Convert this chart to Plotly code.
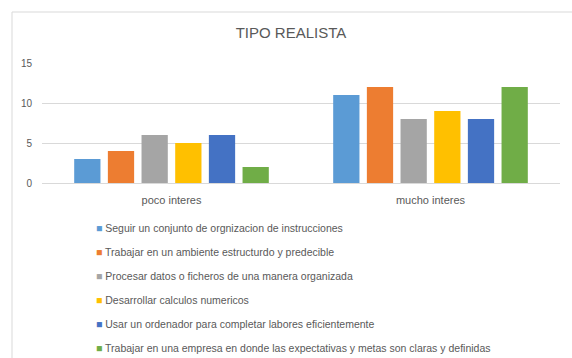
import plotly.graph_objects as go

# Chart data
categories = ["poco interes", "mucho interes"]
series_names = [
    "Seguir un conjunto de orgnizacion de instrucciones",
    "Trabajar en un ambiente estructurdo y predecible",
    "Procesar datos o ficheros de una manera organizada",
    "Desarrollar calculos numericos",
    "Usar un ordenador para completar labores eficientemente",
    "Trabajar en una empresa en donde las expectativas y metas son claras y definidas",
]
series_values = [
    [3, 11],
    [4, 12],
    [6, 8],
    [5, 9],
    [6, 8],
    [2, 12],
]
colors = ["#5B9BD5", "#ED7D31", "#A5A5A5", "#FFC000", "#4472C4", "#70AD47"]
y_ticks = [0, 5, 10, 15]

FONT = "Liberation Sans, Arial, sans-serif"
TEXT = "#595959"
GRID = "#D9D9D9"
W, H = 572, 358

# plot area: x 42..560, y 63..183 (pixels)
L, R, T, B = 42, 12, 63, 175
PW, PH = W - L - R, H - T - B

fig = go.Figure()
for name, vals, col in zip(series_names, series_values, colors):
    fig.add_trace(go.Bar(
        x=categories, y=vals, name=name,
        marker=dict(color=col, line=dict(width=0)),
        showlegend=False,
    ))
    # legend row: colored square glyph followed by the series name
    fig.add_trace(go.Scatter(
        x=[None], y=[None], mode="markers",
        name=f'<span style="color:{col}">■</span> {name}',
        marker=dict(symbol="square", size=1, color="rgba(0,0,0,0)",
                    line=dict(width=0)),
        legendgroup=name, hoverinfo="skip",
    ))

fig.update_layout(
    width=W, height=H,
    margin=dict(l=L, r=R, t=T, b=B, autoexpand=False),
    paper_bgcolor="white", plot_bgcolor="white",
    font=dict(family=FONT, size=11, color=TEXT),
    title=dict(text="TIPO REALISTA", x=(291 - L) / PW, xanchor="center", xref="paper",
               y=1 - 33 / H, yanchor="middle",
               font=dict(family=FONT, size=15, color=TEXT)),
    barmode="group", bargap=0.22, bargroupgap=0.22,
    showlegend=True,
    legend=dict(x=(56 - L) / PW, xanchor="left", y=-(213 - 183) / PH, yanchor="top",
                orientation="v", tracegroupgap=5, itemwidth=30,
                borderwidth=0,
                font=dict(family=FONT, size=10.5, color=TEXT),
                bgcolor="rgba(0,0,0,0)"),
    xaxis=dict(showgrid=False, showline=False, ticks="", zeroline=False,
               tickfont=dict(family=FONT, size=11, color=TEXT), ticklabelstandoff=9),
    yaxis=dict(range=[0, 15], tickvals=y_ticks, showgrid=True, gridcolor=GRID,
               gridwidth=1, zeroline=True, zerolinecolor=GRID, zerolinewidth=1,
               showline=False, ticks="", ticklabelstandoff=9,
               tickfont=dict(family=FONT, size=10, color=TEXT)),
    shapes=[dict(type="rect", xref="paper", yref="paper",
                 x0=-(L - 12) / PW, x1=1.2, y0=-2, y1=(183 - 12) / PH,
                 line=dict(color=GRID, width=1), fillcolor="rgba(0,0,0,0)",
                 layer="below")],
)

fig.write_html("out.html")
